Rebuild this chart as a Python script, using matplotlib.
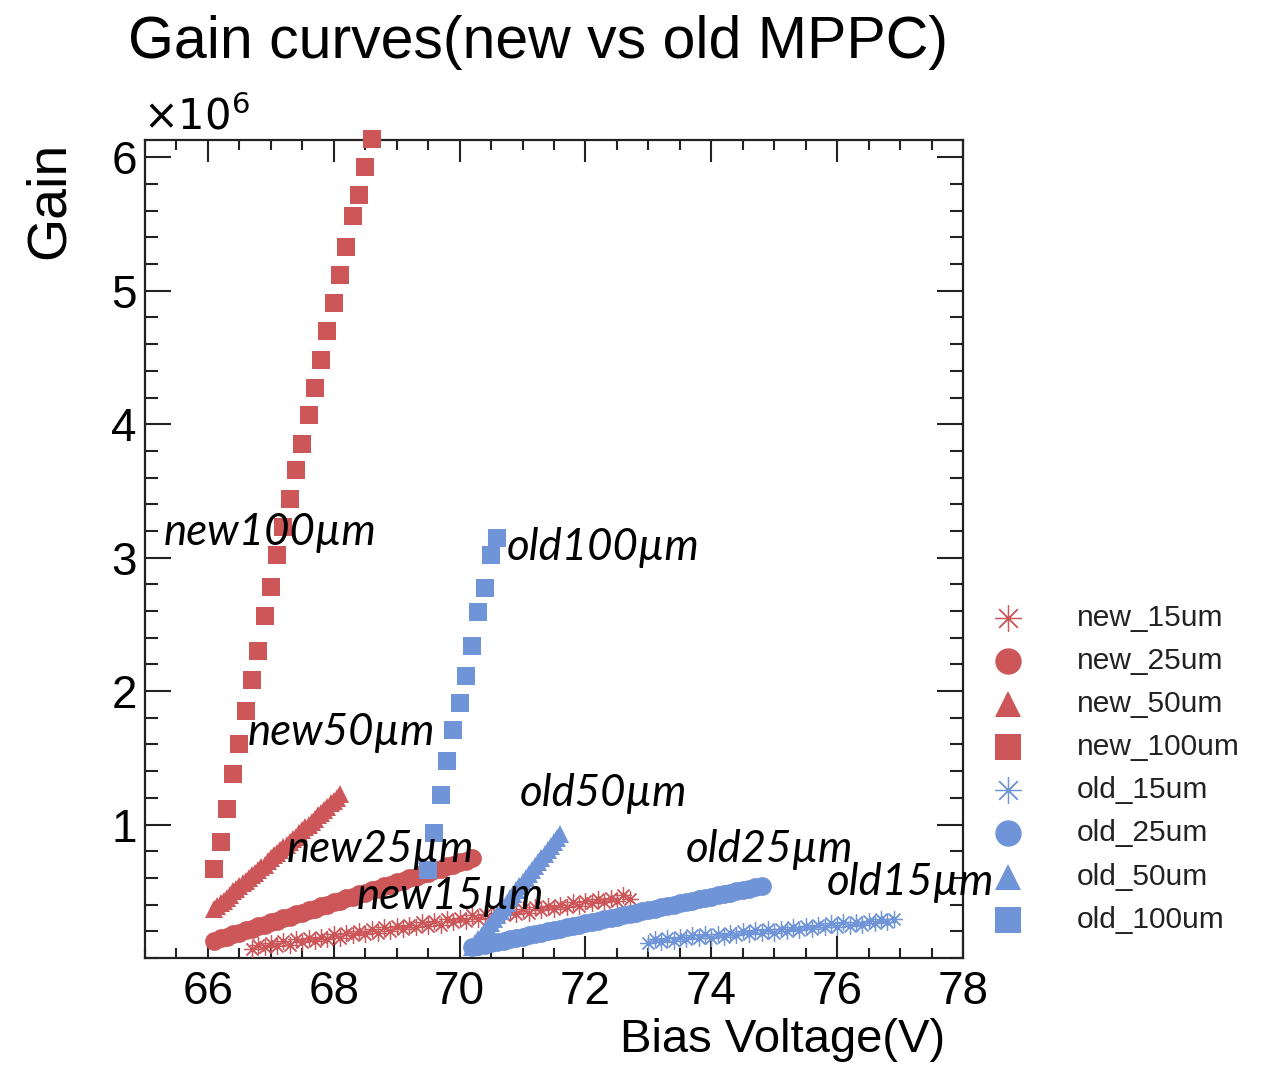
import matplotlib
matplotlib.use("Agg")
import matplotlib.pyplot as plt
from matplotlib.ticker import MultipleLocator, FixedLocator

# ---------------- data (gain in units of 1e6) ----------------
new100_v = [66.1, 66.2, 66.3, 66.4, 66.5, 66.6, 66.7, 66.8, 66.9, 67.0, 67.1, 67.2, 67.3,
            67.4, 67.5, 67.6, 67.7, 67.8, 67.9, 68.0, 68.1, 68.2, 68.3, 68.4, 68.5, 68.6]
new100_g = [0.67, 0.87, 1.12, 1.38, 1.60, 1.85, 2.08, 2.30, 2.56, 2.78, 3.02, 3.23, 3.44,
            3.66, 3.85, 4.07, 4.27, 4.48, 4.70, 4.91, 5.12, 5.33, 5.56, 5.72, 5.93, 6.14]

old100_v = [69.5, 69.6, 69.7, 69.8, 69.9, 70.0, 70.1, 70.2, 70.3, 70.4, 70.5, 70.6]
old100_g = [0.66, 0.94, 1.22, 1.48, 1.71, 1.91, 2.11, 2.34, 2.59, 2.77, 3.02, 3.15]

new50_v = [66.10, 66.15, 66.20, 66.25, 66.30, 66.35, 66.40, 66.45, 66.50, 66.55, 66.60,
           66.65, 66.70, 66.75, 66.80, 66.85, 66.90, 66.95, 67.00, 67.05, 67.10, 67.15,
           67.20, 67.25, 67.30, 67.35, 67.40, 67.45, 67.50, 67.55, 67.60, 67.65, 67.70,
           67.75, 67.80, 67.85, 67.90, 67.95, 68.00, 68.05, 68.10]
new50_g = [0.37, 0.39, 0.41, 0.43, 0.45, 0.47, 0.50, 0.52, 0.54, 0.56, 0.58,
           0.60, 0.62, 0.64, 0.66, 0.68, 0.70, 0.73, 0.75, 0.77, 0.79, 0.81,
           0.83, 0.85, 0.87, 0.89, 0.91, 0.94, 0.96, 0.98, 1.00, 1.02, 1.04,
           1.07, 1.09, 1.11, 1.13, 1.16, 1.18, 1.20, 1.23]

new25_v = [66.1, 66.2, 66.3, 66.4, 66.5, 66.6, 66.7, 66.8, 66.9, 67.0, 67.1, 67.2, 67.3, 67.4,
           67.5, 67.6, 67.7, 67.8, 67.9, 68.0, 68.1, 68.2, 68.3, 68.4, 68.5, 68.6, 68.7, 68.8,
           68.9, 69.0, 69.1, 69.2, 69.3, 69.4, 69.5, 69.6, 69.7, 69.8, 69.9, 70.0, 70.1, 70.2]
new25_g = [0.13, 0.15, 0.16, 0.18, 0.19, 0.21, 0.22, 0.24, 0.25, 0.27, 0.28, 0.30, 0.31, 0.33,
           0.34, 0.36, 0.37, 0.39, 0.40, 0.42, 0.43, 0.45, 0.46, 0.48, 0.49, 0.51, 0.52, 0.54,
           0.55, 0.57, 0.58, 0.60, 0.61, 0.63, 0.64, 0.66, 0.67, 0.69, 0.70, 0.72, 0.73, 0.75]

new15_v = [66.7, 66.8, 66.9, 67.0, 67.1, 67.2, 67.3, 67.4, 67.5, 67.6, 67.7, 67.8, 67.9, 68.0,
           68.1, 68.2, 68.3, 68.4, 68.5, 68.6, 68.7, 68.8, 68.9, 69.0, 69.1, 69.2, 69.3, 69.4,
           69.5, 69.6, 69.7, 69.8, 69.9, 70.0, 70.1, 70.2, 70.3, 70.4, 70.5, 70.6, 70.7, 70.8,
           70.9, 71.0, 71.1, 71.2, 71.3, 71.4, 71.5, 71.6, 71.7, 71.8, 71.9, 72.0, 72.1, 72.2,
           72.3, 72.4, 72.5, 72.6, 72.7]
new15_g = [0.07, 0.10, 0.08, 0.11, 0.09, 0.13, 0.10, 0.14, 0.12, 0.15, 0.13, 0.16, 0.14, 0.18,
           0.15, 0.19, 0.17, 0.20, 0.18, 0.22, 0.19, 0.23, 0.20, 0.24, 0.22, 0.25, 0.23, 0.27,
           0.24, 0.28, 0.25, 0.29, 0.27, 0.30, 0.28, 0.32, 0.29, 0.33, 0.30, 0.34, 0.32, 0.35,
           0.33, 0.37, 0.34, 0.38, 0.36, 0.39, 0.37, 0.40, 0.38, 0.42, 0.39, 0.43, 0.41, 0.44,
           0.42, 0.45, 0.43, 0.47, 0.44]

old50_v = [70.20, 70.25, 70.30, 70.35, 70.40, 70.45, 70.50, 70.55, 70.60, 70.65, 70.70,
           70.75, 70.80, 70.85, 70.90, 70.95, 71.00, 71.05, 71.10, 71.15, 71.20, 71.25,
           71.30, 71.35, 71.40, 71.45, 71.50, 71.55, 71.60]
old50_g = [0.08, 0.11, 0.14, 0.17, 0.20, 0.23, 0.26, 0.29, 0.32, 0.35, 0.38,
           0.41, 0.45, 0.48, 0.51, 0.54, 0.57, 0.60, 0.63, 0.66, 0.69, 0.72,
           0.75, 0.78, 0.81, 0.84, 0.87, 0.90, 0.93]

old25_v = [70.2, 70.3, 70.4, 70.5, 70.6, 70.7, 70.8, 70.9, 71.0, 71.1, 71.2, 71.3, 71.4, 71.5,
           71.6, 71.7, 71.8, 71.9, 72.0, 72.1, 72.2, 72.3, 72.4, 72.5, 72.6, 72.7, 72.8, 72.9,
           73.0, 73.1, 73.2, 73.3, 73.4, 73.5, 73.6, 73.7, 73.8, 73.9, 74.0, 74.1, 74.2, 74.3,
           74.4, 74.5, 74.6, 74.7, 74.8]
old25_g = [0.08, 0.09, 0.10, 0.11, 0.12, 0.13, 0.14, 0.15, 0.16, 0.17, 0.18, 0.19, 0.20, 0.21,
           0.22, 0.23, 0.24, 0.25, 0.26, 0.27, 0.28, 0.29, 0.30, 0.31, 0.32, 0.33, 0.34, 0.35,
           0.36, 0.37, 0.38, 0.39, 0.40, 0.41, 0.42, 0.43, 0.44, 0.45, 0.46, 0.47, 0.48, 0.49,
           0.50, 0.51, 0.52, 0.53, 0.54]

old15_v = [73.0, 73.1, 73.2, 73.3, 73.4, 73.5, 73.6, 73.7, 73.8, 73.9, 74.0, 74.1, 74.2, 74.3,
           74.4, 74.5, 74.6, 74.7, 74.8, 74.9, 75.0, 75.1, 75.2, 75.3, 75.4, 75.5, 75.6, 75.7,
           75.8, 75.9, 76.0, 76.1, 76.2, 76.3, 76.4, 76.5, 76.6, 76.7, 76.8, 76.9]
old15_g = [0.11, 0.14, 0.12, 0.15, 0.13, 0.16, 0.14, 0.17, 0.15, 0.18, 0.15, 0.18, 0.16, 0.19,
           0.17, 0.20, 0.18, 0.21, 0.19, 0.22, 0.19, 0.22, 0.20, 0.23, 0.21, 0.24, 0.22, 0.25,
           0.23, 0.26, 0.23, 0.27, 0.24, 0.27, 0.25, 0.28, 0.26, 0.29, 0.27, 0.29]

legend_labels = ["new_15um", "new_25um", "new_50um", "new_100um",
                 "old_15um", "old_25um", "old_50um", "old_100um"]

curve_labels = ["new100\u00b5m", "old100\u00b5m", "new50\u00b5m", "old50\u00b5m",
                "new25\u00b5m", "new15\u00b5m", "old25\u00b5m", "old15\u00b5m"]
label_x = [65.29, 70.75, 66.63, 70.95, 67.25, 68.37, 73.59, 75.84]
label_y = [3.094, 2.981, 1.596, 1.139, 0.719, 0.367, 0.719, 0.472]

# ---------------- style ----------------
RED = "#CD5659"
BLUE = "#7094D8"
FONT = "Liberation Sans"
ASTER = (8, 2, 0)

series = [
    (new15_v, new15_g, RED, ASTER, 12),
    (new25_v, new25_g, RED, "o", 13.5),
    (new50_v, new50_g, RED, "^", 13),
    (new100_v, new100_g, RED, "s", 12.5),
    (old15_v, old15_g, BLUE, ASTER, 12),
    (old25_v, old25_g, BLUE, "o", 13.5),
    (old50_v, old50_g, BLUE, "^", 13),
    (old100_v, old100_g, BLUE, "s", 12.5),
]

W, H = 1263, 1066
fig = plt.figure(figsize=(W / 100, H / 100), dpi=100)
ax = fig.add_axes([145 / W, 1 - 958 / H, (963 - 145) / W, (958 - 140) / H])

for v, g, c, m, s in series:
    if m == ASTER:
        ax.plot(v, g, linestyle="none", marker=m, markersize=s, color=c,
                markeredgecolor=c, markeredgewidth=0.9, clip_on=False, zorder=3)
    else:
        ax.plot(v, g, linestyle="none", marker=m, markersize=s, color=c,
                markeredgewidth=0, clip_on=False, zorder=3)

ax.set_xlim(65, 78)
ax.set_ylim(0, 6.13)
ax.xaxis.set_major_locator(MultipleLocator(2))
ax.xaxis.set_minor_locator(MultipleLocator(0.5))
ax.yaxis.set_major_locator(FixedLocator([1, 2, 3, 4, 5, 6]))
ax.yaxis.set_minor_locator(MultipleLocator(0.2))
ax.tick_params(which="both", direction="in", top=True, right=True, width=1.5, color="#222222")
ax.tick_params(axis="x", which="major", length=16, labelsize=33, pad=9)
ax.tick_params(axis="x", which="minor", length=7.5)
ax.tick_params(axis="y", which="major", length=19, labelsize=33, pad=6)
ax.tick_params(axis="y", which="minor", length=9.5)
for lab in ax.get_xticklabels() + ax.get_yticklabels():
    lab.set_fontfamily(FONT)
for sp in ax.spines.values():
    sp.set_linewidth(1.6)
    sp.set_color("#222222")

# curve annotations
for t, x, y in zip(curve_labels, label_x, label_y):
    ax.text(x, y, t, fontsize=31.5, fontstyle="italic", family="Lato",
            ha="left", va="baseline", color="black", clip_on=False, zorder=5)

# title, axis labels, exponent
fig.text(538 / W, 1 - 42 / H, "Gain curves(new vs old MPPC)", fontsize=42.5, family=FONT,
         ha="center", va="center")
fig.text(50 / W, 1 - 200 / H, "Gain", fontsize=40, family=FONT, rotation=90,
         ha="center", va="center")
fig.text(945 / W, 1 - 1040 / H, "Bias Voltage(V)", fontsize=34, family=FONT,
         ha="right", va="center")
fig.text(143 / W, 1 - 130 / H, r"$\times10^{6}$", fontsize=30, family=FONT,
         ha="left", va="baseline", math_fontfamily="dejavusans")

# legend (manual, outside the axes)
row_y = [618, 661, 704, 747, 790, 833, 877, 920]
for (v, g, c, m, s), lab, ry in zip(series, legend_labels, row_y):
    yy = 1 - ry / H
    if m == ASTER:
        fig.add_artist(plt.Line2D([1008 / W], [yy], linestyle="none", marker=m, markersize=19,
                                  color=c, markeredgecolor=c, markeredgewidth=0.9,
                                  transform=fig.transFigure))
    else:
        fig.add_artist(plt.Line2D([1008 / W], [yy], linestyle="none", marker=m, markersize=19,
                                  color=c, markeredgewidth=0, transform=fig.transFigure))
    fig.text(1077 / W, yy, lab, fontsize=21.5, family=FONT, ha="left", va="center",
             color="#222222")

fig.savefig("out.png", dpi=100)
